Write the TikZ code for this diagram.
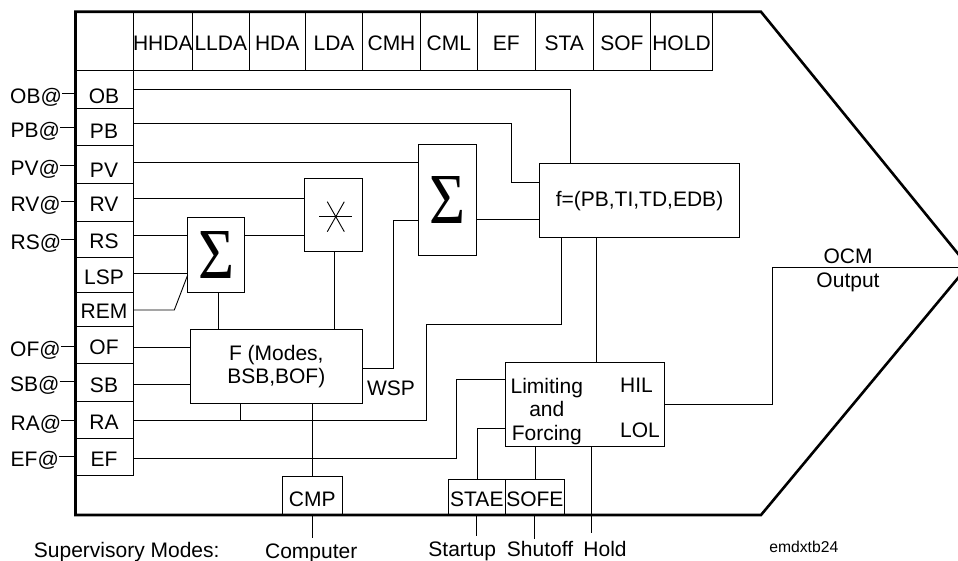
\documentclass[tikz,border=0pt]{standalone}
\usepackage{fontspec}
\usepackage{graphicx}
\usepackage{tikz}
\usetikzlibrary{positioning}
\setmainfont{Liberation Sans}
\newfontfamily\sumfont{Liberation Serif}
\newcommand{\bigsum}{\resizebox{36pt}{47pt}{\sumfont Σ}}

\begin{document}
\begin{tikzpicture}[
  x=1pt, y=-1pt,
  font=\fontsize{21}{23.3}\selectfont,
  frame/.style={line width=2.6pt, line join=miter},
  cell/.style={rectangle, draw, line width=0.9pt, inner sep=0pt, outer sep=0pt,
    text height=19pt, text depth=0pt},
  hdr/.style={cell, minimum height=58pt},
  lft/.style={cell, minimum width=58pt},
  box/.style={rectangle, draw, line width=0.9pt, inner sep=0pt, outer sep=0pt},
  wire/.style={line width=0.9pt},
  ext/.style={anchor=west, inner sep=0pt, text height=21pt, text depth=0pt},
  txt/.style={inner sep=0pt, text height=15pt, text depth=5pt},
  low/.style={txt, inner ysep=3pt},
]
  \clip (0,0) rectangle (958,561);
  \coordinate (tip) at (968,267.7);
  \draw[frame] (75.5,11.8) -- (761,11.8) -- (968,266) -- (761,515) -- (75.5,515) -- cycle;

  % top row
  \node[hdr, minimum width=58pt] (corner) at (104,41) {};
  \node[hdr, minimum width=59.6pt, right=0pt of corner] (HHDA) {HHDA};
  \node[hdr, minimum width=56.4pt, right=0pt of HHDA] (LLDA) {LLDA};
  \node[hdr, minimum width=56.5pt, right=0pt of LLDA] (HDA) {HDA};
  \node[hdr, minimum width=57pt, right=0pt of HDA] (LDA) {LDA};
  \node[hdr, minimum width=58pt, right=0pt of LDA] (CMH) {CMH};
  \node[hdr, minimum width=56.7pt, right=0pt of CMH] (CML) {CML};
  \node[hdr, minimum width=58pt, right=0pt of CML] (EFa) {EF};
  \node[hdr, minimum width=58pt, right=0pt of EFa] (STA) {STA};
  \node[hdr, minimum width=57.3pt, right=0pt of STA] (SOF) {SOF};
  \node[hdr, minimum width=62pt, right=0pt of SOF] (HOLD) {HOLD};

  % left column
  \node[lft, minimum height=38pt, text height=29pt, below=0pt of corner] (OB) {OB};
  \node[lft, minimum height=37.7pt, text height=23pt, below=0pt of OB] (PB) {PB};
  \node[lft, minimum height=38pt, text height=25pt, below=0pt of PB] (PV) {PV};
  \node[lft, minimum height=37.3pt, below=0pt of PV] (RV) {RV};
  \node[lft, minimum height=36.3pt, below=0pt of RV] (RS) {RS};
  \node[lft, minimum height=35.4pt, below=0pt of RS] (LSP) {LSP};
  \node[lft, minimum height=33.3pt, below=0pt of LSP] (REM) {REM};
  \node[lft, minimum height=37.7pt, below=0pt of REM] (OF) {OF};
  \node[lft, minimum height=37.6pt, below=0pt of OF] (SB) {SB};
  \node[lft, minimum height=37.4pt, below=0pt of SB] (RA) {RA};
  \node[lft, minimum height=36.6pt, below=0pt of RA] (EF) {EF};

  \node[ext] (xOB) at (10,93.3) {OB@};
  \node[ext] (xPB) at (10.5,127.3) {PB@};
  \node[ext] (xPV) at (10.5,165) {PV@};
  \node[ext] (xRV) at (10.5,201) {RV@};
  \node[ext] (xRS) at (10.5,239) {RS@};
  \node[ext] (xOF) at (10,346) {OF@};
  \node[ext] (xSB) at (10,381) {SB@};
  \node[ext] (xRA) at (10.5,420.3) {RA@};
  \node[ext] (xEF) at (10.5,456.3) {EF@};
  \draw[wire] (xOB.east) -- (xOB.east -| OB.west);
  \draw[wire] (xPB.east) -- (xPB.east -| PB.west);
  \draw[wire] (xPV.east) -- (xPV.east -| PV.west);
  \draw[wire] (xRV.east) -- (xRV.east -| RV.west);
  \draw[wire] (xRS.east) -- (xRS.east -| RS.west);
  \draw[wire] (xOF.east) -- (xOF.east -| OF.west);
  \draw[wire] (xSB.east) -- (xSB.east -| SB.west);
  \draw[wire] (xRA.east) -- (xRA.east -| RA.west);
  \draw[wire] (xEF.east) -- (xEF.east -| EF.west);

  % function blocks
  \node[box, minimum width=56.6pt, minimum height=75pt] (sumrem) at (216,255.2) {\bigsum};
  \node[box, minimum width=57.7pt, minimum height=110.7pt] (sumpv) at (447.35,199.65) {\bigsum};
  \node[box, minimum width=58pt, minimum height=73.4pt] (mult) at (333.3,215) {};
  \node[box, minimum width=200pt, minimum height=74.2pt] (func) at (639.5,200.6) {f=(PB,TI,TD,EDB)};
  \node[box, minimum width=172pt, minimum height=74pt, align=center] (modes) at (276.3,366.3) {F (Modes,\\BSB,BOF)};
  \node[box, minimum width=159.7pt, minimum height=84.7pt] (limit) at (584.85,404.35) {};
  \node[cell, minimum width=60pt, minimum height=38.3pt, text height=22pt] (CMP) at (312.3,495.85) {CMP};
  \node[cell, minimum width=57.7pt, minimum height=36pt] (STAE) at (476.85,497) {STAE};
  \node[cell, minimum width=58.3pt, minimum height=36pt, right=0pt of STAE] (SOFE) {SOFE};

  \coordinate (multc) at (335.8,216.7);
  \draw[wire] ([xshift=-16.5pt]multc) -- ([xshift=16.5pt]multc);
  \draw[wire] ([shift={(-8.5,-15)}]multc) -- ([shift={(8.5,15)}]multc);
  \draw[wire] ([shift={(8.5,-15)}]multc) -- ([shift={(-8.5,15)}]multc);

  \node[inner sep=0pt, align=center] (limtxt) at (546.8,411.5) {Limiting\\and\\Forcing};
  \node[txt, anchor=west] (HIL) at (620,387.7) {HIL};
  \node[txt, anchor=west] (LOL) at (620,432.3) {LOL};
  \node[txt] (WSP) at (391,390) {WSP};
  \node[txt] (OCM) at (848,258.3) {OCM};
  \node[txt] (Output) at (848,282.7) {Output};

  \node[txt] (Modes) at (126.7,552.3) {Supervisory Modes:};
  \node[low] (Computer) at (311.2,553) {Computer};
  \node[low] (Startup) at (462.3,551.5) {Startup};
  \node[low] (Shutoff) at (540,551.7) {Shutoff};
  \node[low] (Hold) at (605,551.7) {Hold};
  \node[txt, font=\fontsize{15.7}{18}\selectfont] (emd) at (803.8,547.7) {emdxtb24};

  % signal lines
  \draw[wire] (OB.east) -| ([xshift=-69pt]func.north);
  \draw[wire] ([yshift=3.55pt]PB.east) -| (511.4,182.3) -- ([yshift=18.3pt]func.west);
  \draw[wire] ([yshift=2.4pt]PV.east) -- ([yshift=2.4pt]PV.east -| sumpv.west);
  \draw[wire] ([yshift=3.65pt]RV.east) -- ([yshift=3.65pt]RV.east -| mult.west);
  \draw[wire] ([yshift=3.6pt]RS.east) -- ([yshift=3.6pt]RS.east -| sumrem.west);
  \draw[wire] ([yshift=1.7pt]LSP.east) -- ([yshift=1.7pt]LSP.east -| sumrem.west);
  \draw[wire] ([yshift=-0.7pt]REM.east) -- (174.3,310) -- ([yshift=-19.8pt]sumrem.west);
  \draw[wire] ([yshift=19.5pt]sumrem.east) -- ([yshift=19.5pt]sumrem.east -| mult.west);
  \draw[wire] ([xshift=2.7pt]sumrem.south) -- ([xshift=2.7pt]sumrem.south |- modes.north);
  \draw[wire] ([xshift=1.4pt]mult.south) -- ([xshift=1.4pt]mult.south |- modes.north);
  \draw[wire] ([yshift=-2pt]modes.east) -| (393,220.7) -- ([yshift=-21.05pt]sumpv.west);
  \draw[wire] ([yshift=-19.65pt]sumpv.east) -- ([yshift=-19.65pt]sumpv.east -| func.west);
  \draw[wire] ([yshift=-2.85pt]OF.east) -- ([yshift=-2.85pt]OF.east -| modes.west);
  \draw[wire] ([yshift=-1.8pt]SB.east) -- ([yshift=-1.8pt]SB.east -| modes.west);
  \draw[wire] ([yshift=-0.7pt]RA.east) -| (426.7,324.3) -| ([xshift=-78.3pt]func.south);
  \draw[wire] ([xshift=-36.3pt]modes.south) -- ([xshift=-36.3pt,yshift=-17.4pt]modes.south);
  \draw[wire] ([yshift=-1.3pt]EF.east) -| (456.9,379) -- ([yshift=25.35pt]limit.west);
  \draw[wire] (CMP.north) -- (CMP.north |- modes.south);
  \draw[wire] ([xshift=-42.7pt]func.south) -- ([xshift=-42.7pt]func.south |- limit.north);
  \draw[wire] (limit.east) -| (772.4,267.7) -- (tip);
  \draw[wire] ([xshift=0.75pt]STAE.north) |- ([yshift=-24.35pt]limit.west);
  \draw[wire] ([xshift=0.85pt]SOFE.north) -- ([xshift=0.85pt]SOFE.north |- limit.south);
  \draw[wire, shorten >=6pt] ([xshift=6.85pt]limit.south) -- ([xshift=6.85pt]limit.south |- Hold.north);
  \draw[wire, shorten >=2pt] (CMP.south) -- (CMP.south |- Computer.north);
  \draw[wire, shorten >=2pt] (STAE.south) -- (STAE.south |- Startup.north);
  \draw[wire] (SOFE.south) -- (SOFE.south |- Shutoff.north);
\end{tikzpicture}
\end{document}
